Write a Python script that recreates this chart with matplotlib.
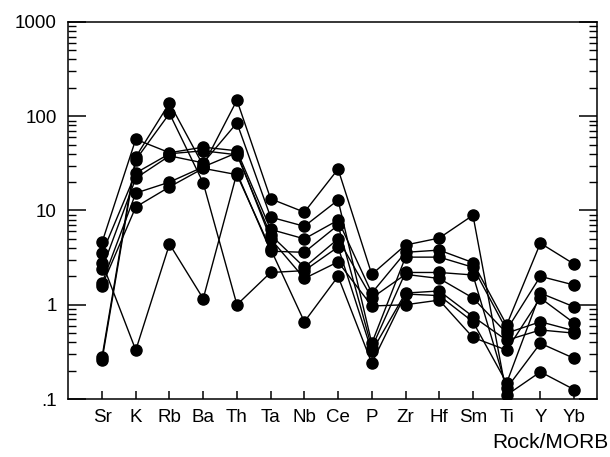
import numpy as np
import matplotlib
matplotlib.use("Agg")
import matplotlib.pyplot as plt
from matplotlib.ticker import LogLocator, FixedLocator, FixedFormatter, NullFormatter

plt.rcParams['font.family'] = ['Liberation Sans', 'DejaVu Sans']

# éléments (normalisés MORB)
elements = ["Sr", "K", "Rb", "Ba", "Th", "Ta", "Nb", "Ce", "P", "Zr", "Hf", "Sm", "Ti", "Y", "Yb"]

# échantillons : Rock/MORB
ech_1 = [0.28, 37, 138, 30, 148, 13.3, 9.6, 27.5, 2.1, 4.3, 5.1, 8.9, 0.11, 0.194, 0.126]
ech_2 = [0.26, 34.5, 107, 19.6, 1.0, 2.2, 2.3, 4.1, 0.32, 1.33, 1.4, 0.75, 0.42, 0.54, 0.50]
ech_3 = [4.6, 57, 41, 47, 43, 6.3, 5.0, 7.9, 1.33, 3.6, 3.8, 2.8, 0.61, 4.5, 2.7]
ech_4 = [3.5, 25, 40, 43, 39, 5.5, 2.5, 5.0, 1.18, 2.1, 1.9, 1.18, 0.50, 0.66, 0.53]
ech_5 = [2.4, 22, 38, 32, 85, 8.5, 6.8, 12.9, 0.39, 3.2, 3.2, 2.5, 0.54, 2.0, 1.62]
ech_6 = [1.7, 15.3, 20, 29, 41, 5.0, 1.9, 2.85, 0.97, 1.0, 1.12, 0.45, 0.33, 1.18, 0.64]
ech_7 = [1.6, 10.9, 17.8, 28, 24, 3.9, 0.66, 2.0, 0.24, 1.3, 1.25, 0.66, 0.148, 1.33, 0.95]
ech_8 = [2.8, 0.33, 4.4, 1.16, 25, 3.7, 3.6, 7.0, 0.35, 2.2, 2.2, 2.07, 0.13, 0.39, 0.27]

echantillons = [ech_1, ech_2, ech_3, ech_4, ech_5, ech_6, ech_7, ech_8]

fig = plt.figure(figsize=(6.1, 4.57), dpi=100)
ax = fig.add_axes([0.1115, 0.1269, 0.8672, 0.825])

x = np.arange(len(elements))
for ech in echantillons:
    ax.plot(x, ech, color='black', lw=1.0, marker='o', markersize=8,
            markerfacecolor='black', markeredgecolor='black')

ax.set_yscale('log')
ax.set_ylim(0.1, 1000)
ax.set_xlim(-1.01, 14.68)

# axe y : ticks vers l'intérieur, gauche et droite
ax.yaxis.set_major_locator(FixedLocator([0.1, 1, 10, 100, 1000]))
ax.yaxis.set_major_formatter(FixedFormatter([".1", "1", "10", "100", "1000"]))
ax.yaxis.set_minor_locator(LogLocator(base=10, subs=np.arange(2, 10)))
ax.yaxis.set_minor_formatter(NullFormatter())
ax.tick_params(axis='y', which='major', direction='in', length=13, width=1.1,
               left=True, right=True, labelsize=13.5, pad=8)
ax.tick_params(axis='y', which='minor', direction='in', length=6, width=1.0,
               left=True, right=True)

ax.set_xticks(x)
ax.set_xticklabels(elements)
ax.tick_params(axis='x', which='major', direction='in', length=6, width=1.1,
               top=False, bottom=True, labelsize=13.5, pad=7)
ax.tick_params(axis='x', which='minor', bottom=False, top=False)

for s in ax.spines.values():
    s.set_linewidth(1.1)

fig.text(0.998, 0.012, "Rock/MORB", ha='right', va='bottom', fontsize=15)

fig.savefig("out.png", dpi=100)
